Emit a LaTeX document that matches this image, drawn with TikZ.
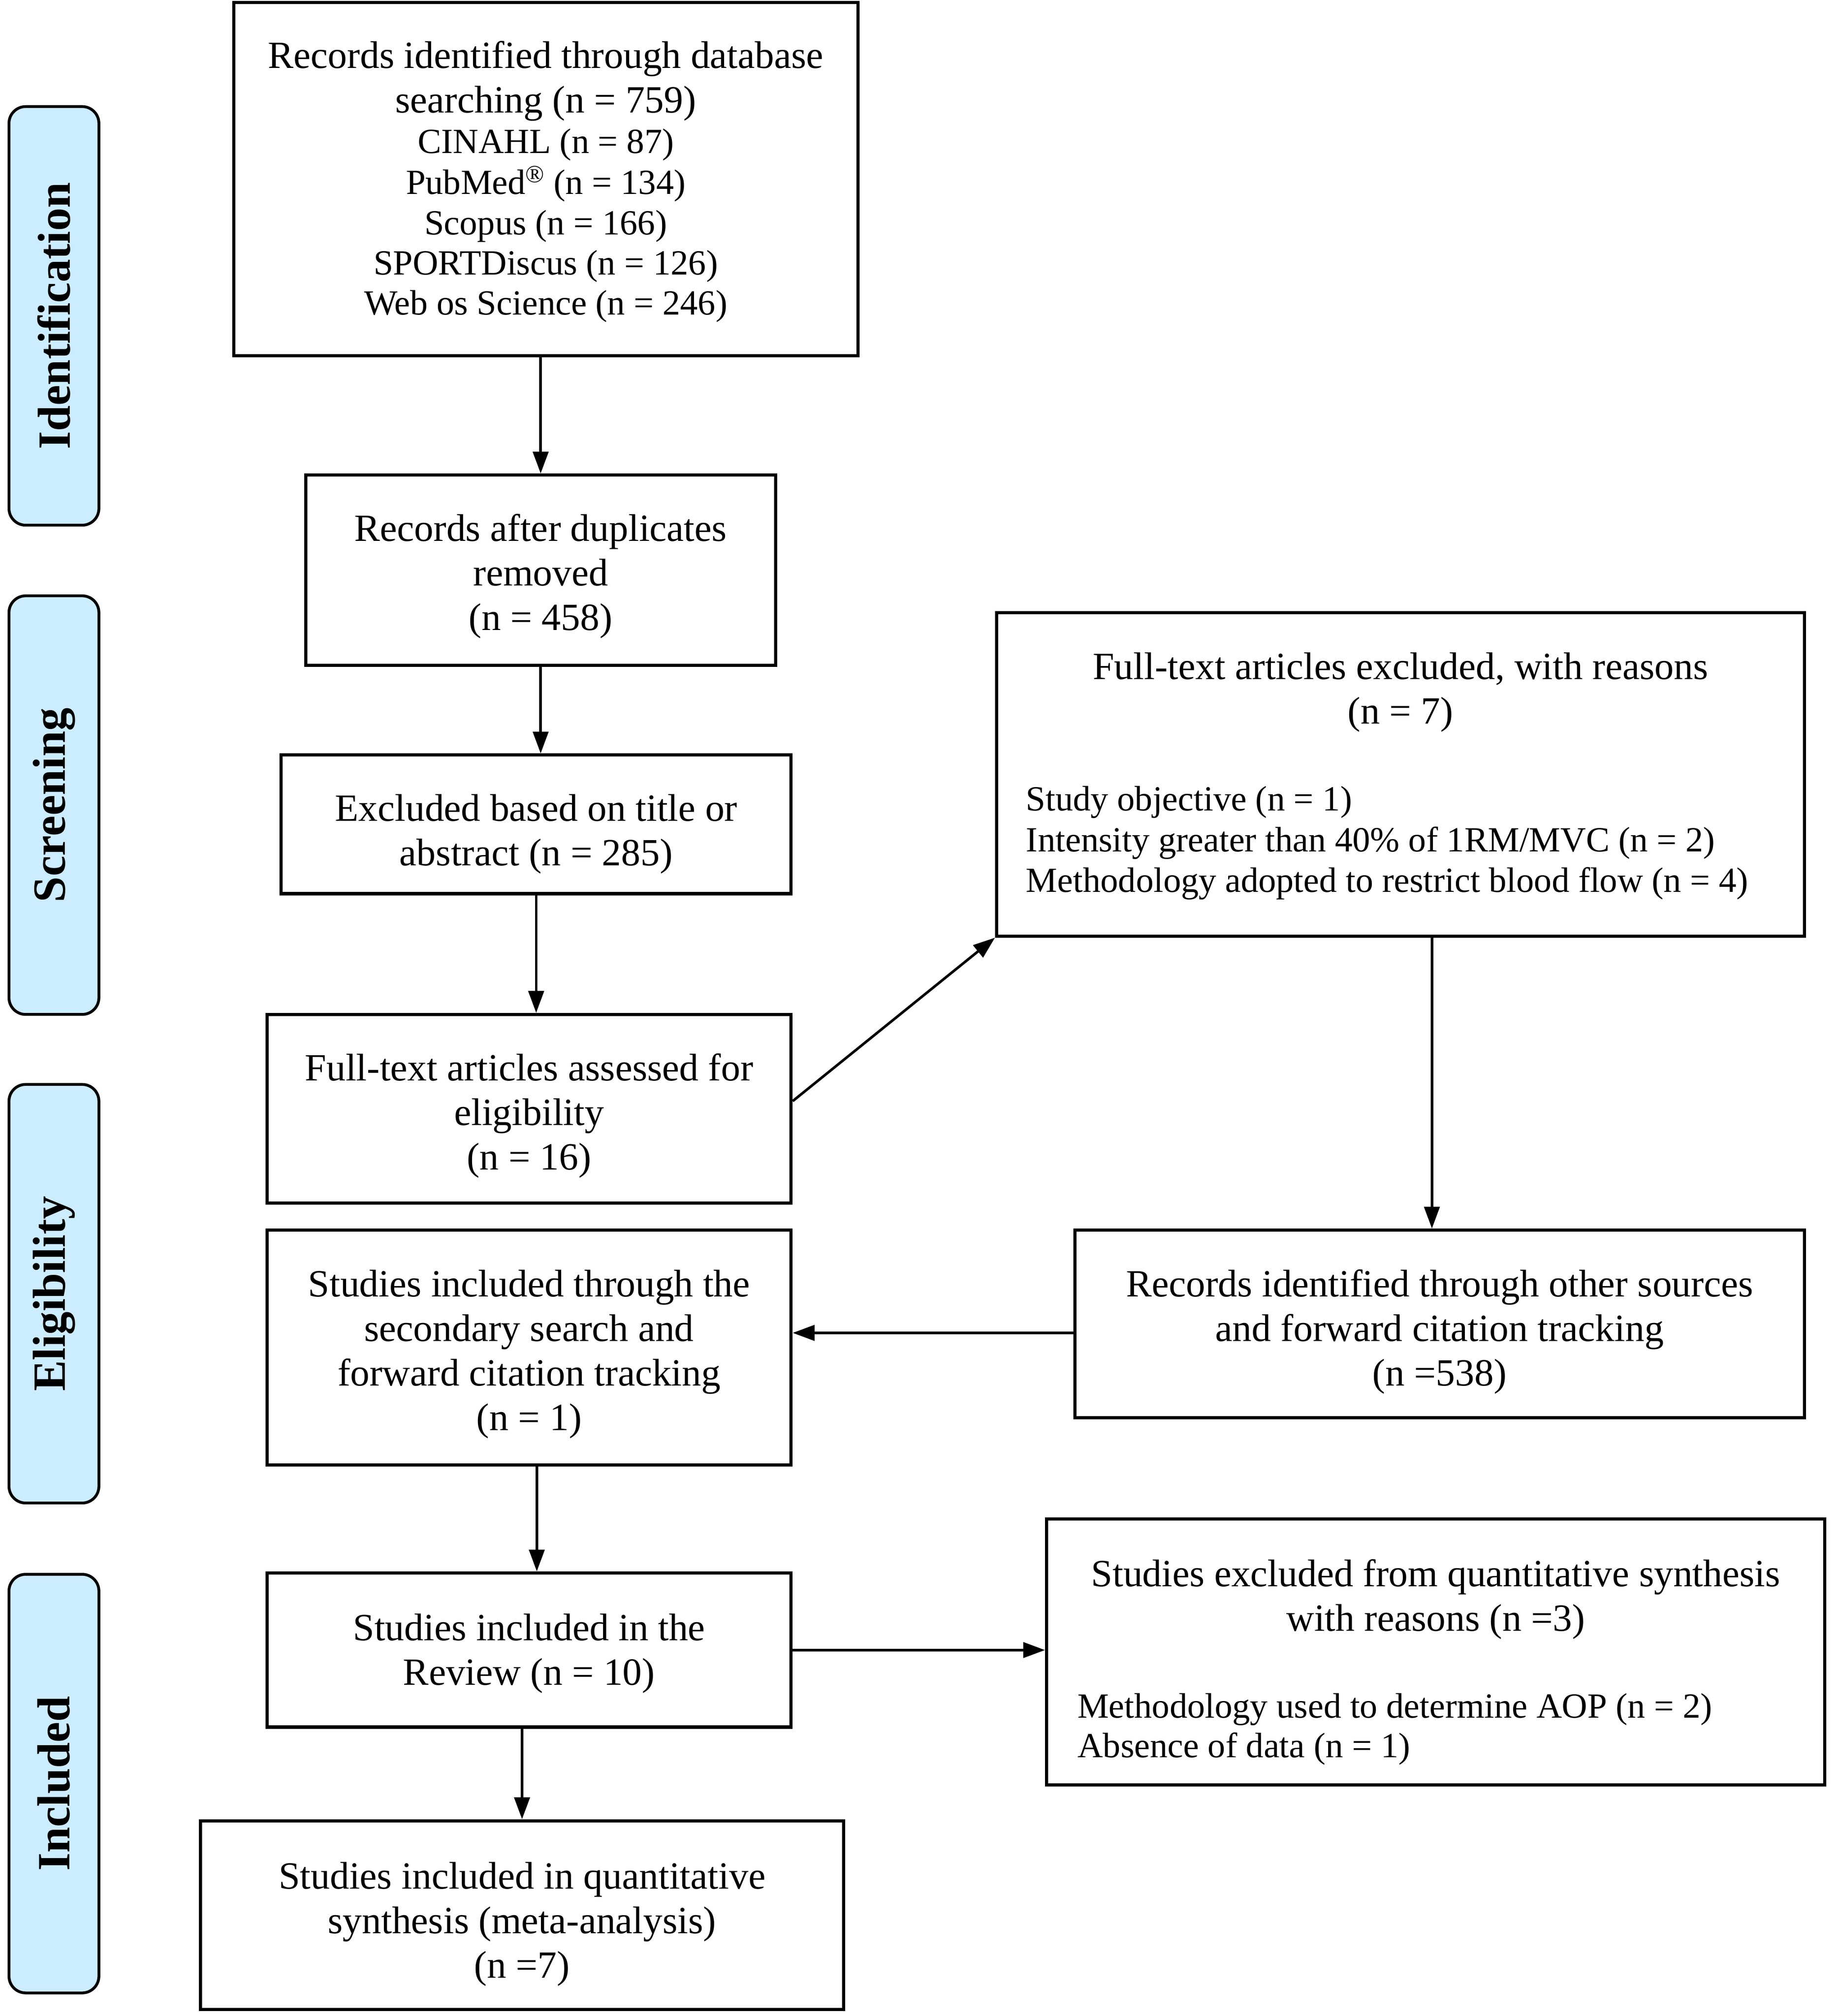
\documentclass[tikz,border=0pt]{standalone}
\usepackage{fontspec}
\setmainfont{Liberation Serif}
\usetikzlibrary{arrows.meta,calc}
\definecolor{labelblue}{RGB}{204,236,255}
\newcommand\smf{\fontsize{27.5}{31.5}\selectfont}
\newcommand\lst[1]{\makebox[#1][l]}
\newcommand\fs{\rule{0pt}{27pt}}
\begin{document}
\begin{tikzpicture}[x=1pt,y=-1pt,
  box/.style={draw, line width=2.5pt, inner sep=0pt},
  txt/.style={align=center, inner sep=0pt, anchor=north,
    font=\fontsize{30}{34.7}\selectfont},
  sidelab/.style={draw, line width=2.2pt, fill=labelblue, rounded corners=13pt,
    rotate=90, minimum width=326pt, minimum height=70pt, inner sep=0pt,
    font=\fontsize{36}{40}\selectfont\bfseries},
  arr/.style={-{Triangle[length=17pt,width=12pt]}, line width=2pt}
]
\useasboundingbox (0,0) rectangle (1431,1570);

% side labels
\node[sidelab] (sid) at (42,246) {Identification};
\node[sidelab] (ssc) at (42,627) {Screening};
\node[sidelab] (sel) at (42,1007.5) {Eligibility};
\node[sidelab] (sin) at (42,1389) {Included};

% main column boxes
\node[box, minimum width=486pt, minimum height=275pt] (b1) at (425,139.5) {};
\node[box, minimum width=366pt, minimum height=148pt] (b2) at (421,444) {};
\node[box, minimum width=397pt, minimum height=108pt] (b3) at (417.5,642) {};
\node[box, minimum width=408pt, minimum height=147pt] (b4) at (412,863.5) {};
\node[box, minimum width=408pt, minimum height=183pt] (b5) at (412,1049.5) {};
\node[box, minimum width=408pt, minimum height=120pt] (b6) at (412,1285) {};
\node[box, minimum width=501pt, minimum height=147pt] (b7) at (406.5,1491.5) {};
% right column boxes
\node[box, minimum width=629pt, minimum height=252pt] (r1) at (1090.5,603) {};
\node[box, minimum width=568pt, minimum height=146pt] (r2) at (1121,1031) {};
\node[box, minimum width=606pt, minimum height=207pt] (r3) at (1118,1286.5) {};

% texts
\node[txt] (b1t) at ($(b1.north)+(0,25)$)
  {\fs Records identified through database\\%
   searching (n = 759)\\[-3pt]%
   \smf CINAHL (n = 87)\\[-3pt]%
   \smf PubMed\textsuperscript{®} (n = 134)\\[-3pt]%
   \smf Scopus (n = 166)\\[-3.5pt]%
   \smf SPORTDiscus (n = 126)\\[-3.5pt]%
   \smf Web os Science (n = 246)};
\node[txt] (b2t) at ($(b2.north)+(0,25.5)$) {\fs Records after duplicates\\removed\\(n = 458)};
\node[txt] (b3t) at ($(b3.north)+(0,25.5)$) {\fs Excluded based on title or\\abstract (n = 285)};
\node[txt] (b4t) at ($(b4.north)+(0,25.5)$) {\fs Full-text articles assessed for\\eligibility\\(n = 16)};
\node[txt] (b5t) at ($(b5.north)+(0,26)$) {\fs Studies included through the\\secondary search and\\forward citation tracking\\(n = 1)};
\node[txt] (b6t) at ($(b6.north)+(0,26.5)$) {\fs Studies included in the\\Review (n = 10)};
\node[txt] (b7t) at ($(b7.north)+(0,27)$) {\fs Studies included in quantitative\\synthesis (meta-analysis)\\(n =7)};
\node[txt] (r1t) at ($(r1.north)+(0,26)$)
  {\fs Full-text articles excluded, with reasons\\%
   (n = 7)\\[33pt]%
   \smf\lst{583pt}{Study objective (n = 1)}\\[-3pt]%
   \smf\lst{583pt}{Intensity greater than 40\% of 1RM/MVC (n = 2)}\\[-3pt]%
   \smf\lst{583pt}{Methodology adopted to restrict blood flow (n = 4)}};
\node[txt] (r2t) at ($(r2.north)+(0,26)$) {\fs Records identified through other sources\\and forward citation tracking\\(n =538)};
\node[txt] (r3t) at ($(r3.north)+(0,26.5)$)
  {\fs Studies excluded from quantitative synthesis\\%
   with reasons (n =3)\\[33pt]%
   \smf\lst{558pt}{Methodology used to determine AOP (n = 2)}\\[-4pt]%
   \smf\lst{558pt}{Absence of data (n = 1)}};

% connectors
\draw[arr] (b2.north |- b1.south) -- (b2.north);
\draw[arr] (b2.south) -- (b2.south |- b3.north);
\draw[arr] (b3.south) -- (b3.south |- b4.north);
\draw[arr] ([yshift=6pt]b4.east) -- (r1.south west);
\coordinate (r1out) at ($(r1.south)+(24.5,0)$);
\draw[arr] (r1out) -- (r1out |- r2.north);
\coordinate (r2out) at ($(r2.west)+(0,7)$);
\draw[arr] (r2out) -- (r2out -| b5.east);
\coordinate (b5out) at ($(b5.south)+(6,0)$);
\draw[arr] (b5out) -- (b5out |- b6.north);
\draw[arr] (b6.east) -- (b6.east -| r3.west);
\draw[arr] (b7.north |- b6.south) -- (b7.north);
\end{tikzpicture}
\end{document}
